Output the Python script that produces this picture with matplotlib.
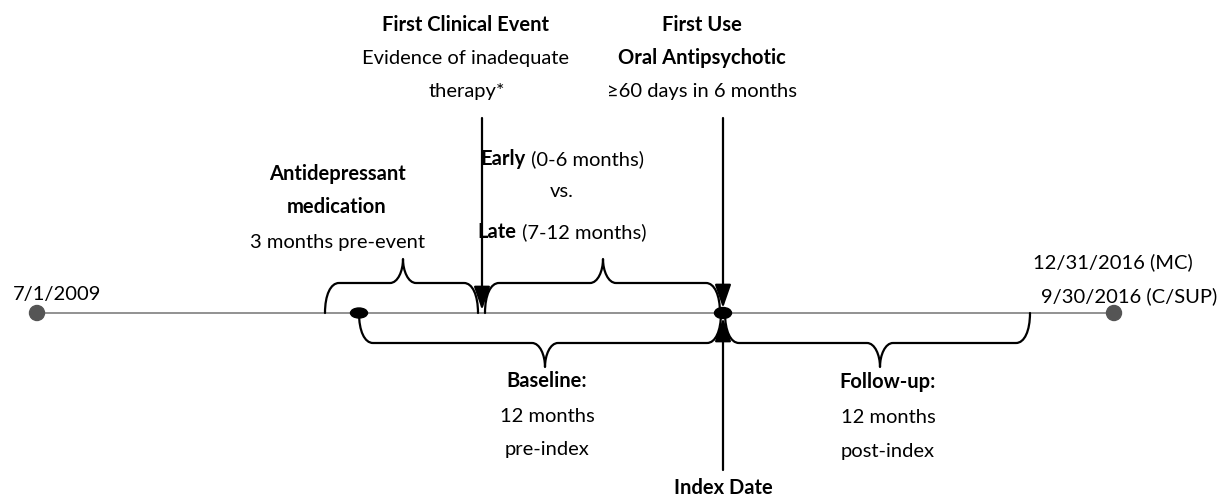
import matplotlib
matplotlib.use('Agg')
import matplotlib.pyplot as plt
from matplotlib.path import Path
from matplotlib.patches import PathPatch, Ellipse, Rectangle

plt.rcParams['font.family'] = ['Lato', 'DejaVu Sans']

W, H = 1222, 496
FS = 14.5

# timeline positions (pixel units along the drawing)
line_y = 313
t_start, t_end = 37, 1114
ad_start = 325          # antidepressant window start
base_start = 359        # baseline start (12 months pre-index)
first_event = 482       # first clinical event
index_x = 723           # index date / first use
fu_end = 1030           # end of follow-up

# (x0, x1, tip_x, side) ; side -1 = above line, +1 = below line
braces = [
    (ad_start, first_event - 4, 403, -1),
    (first_event + 3, index_x - 3, 603, -1),
    (base_start, index_x - 2, 545, 1),
    (index_x + 2, fu_end, 880, 1),
]

fig = plt.figure(figsize=(W / 100, H / 100), dpi=100)
ax = fig.add_axes([0, 0, 1, 1])
ax.set_xlim(0, W)
ax.set_ylim(H, 0)
ax.axis('off')


def brace(x0, x1, xm, side, ye=line_y, depth=30, tip=24, r=14, w=13):
    yf = ye + side * depth
    yt = yf + side * tip
    verts = [(x0, ye),
             (x0, ye + 0.6 * (yf - ye)), (x0 + 0.4 * r, yf), (x0 + r, yf),
             (xm - w, yf),
             (xm - 0.4 * w, yf), (xm, yf + 0.5 * (yt - yf)), (xm, yt),
             (xm, yf + 0.5 * (yt - yf)), (xm + 0.4 * w, yf), (xm + w, yf),
             (x1 - r, yf),
             (x1 - 0.4 * r, yf), (x1, ye + 0.6 * (yf - ye)), (x1, ye)]
    codes = [Path.MOVETO, Path.CURVE4, Path.CURVE4, Path.CURVE4, Path.LINETO,
             Path.CURVE4, Path.CURVE4, Path.CURVE4,
             Path.CURVE4, Path.CURVE4, Path.CURVE4, Path.LINETO,
             Path.CURVE4, Path.CURVE4, Path.CURVE4]
    ax.add_patch(PathPatch(Path(verts, codes), fill=False, lw=1.6,
                           ec='black', capstyle='round', joinstyle='round'))


# main timeline
ax.plot([t_start, t_end], [line_y, line_y], color='#7f7f7f', lw=1.2, zorder=1)
for x in (t_start, t_end):
    ax.add_patch(Ellipse((x, line_y), 15, 15, color='#555555', zorder=3))

for x0, x1, xm, side in braces:
    brace(x0, x1, xm, side)

# marker ellipses
ax.add_patch(Ellipse((base_start, line_y), 17, 10, color='black', zorder=4))
ax.add_patch(Ellipse((index_x, line_y), 17, 11, color='black', zorder=4))


def arrow(x, y0, y1):
    ax.annotate('', xy=(x, y1), xytext=(x, y0),
                arrowprops=dict(arrowstyle='-|>,head_length=1.3,head_width=0.45',
                                lw=1.6, color='black', shrinkA=0, shrinkB=0,
                                mutation_scale=11))


arrow(first_event, 118, 310)
arrow(index_x, 118, 308)
arrow(index_x, 470, 318)

fig.canvas.draw()
renderer = fig.canvas.get_renderer()


def label(x, y, text, bold=False, ha='center'):
    return ax.text(x, y, text, fontsize=FS, ha=ha, va='baseline',
                   fontweight='bold' if bold else 'normal')


def mixed(x, y, bold_part, rest):
    t1 = ax.text(0, y, bold_part, fontsize=FS, fontweight='bold', va='baseline')
    t2 = ax.text(0, y, ' ' + rest, fontsize=FS, va='baseline')
    w1 = t1.get_window_extent(renderer).width
    w2 = t2.get_window_extent(renderer).width
    left = x - (w1 + w2) / 2
    t1.set_x(left)
    t2.set_x(left + w1)


label(465, 31, 'First Clinical Event', bold=True)
label(465, 64, 'Evidence of inadequate')
label(467, 97, 'therapy*')

label(702, 31, 'First Use', bold=True)
label(702, 64, 'Oral Antipsychotic', bold=True)
label(702, 97, '≥60 days in 6 months')

mixed(562, 165, 'Early', '(0-6 months)')
label(562, 197, 'vs.')
mixed(562, 238, 'Late', '(7-12 months)')

label(337, 180, 'Antidepressant', bold=True)
label(337, 213, 'medication', bold=True)
label(337, 248, '3 months pre-event')

label(57, 300, '7/1/2009')
label(1193, 268, '12/31/2016 (MC)', ha='right')
label(1217, 302, '9/30/2016 (C/SUP)', ha='right')

clip = Rectangle((0, 0), W, 457, transform=ax.transData)
label(547, 387, 'Baseline:', bold=True)
label(547, 422, '12 months')
label(547, 455, 'pre-index').set_clip_path(clip)

label(888, 388, 'Follow-up:', bold=True)
label(888, 423, '12 months')
label(888, 457, 'post-index').set_clip_path(clip)

label(723, 494, 'Index Date', bold=True)

fig.savefig('out.png', dpi=100)
